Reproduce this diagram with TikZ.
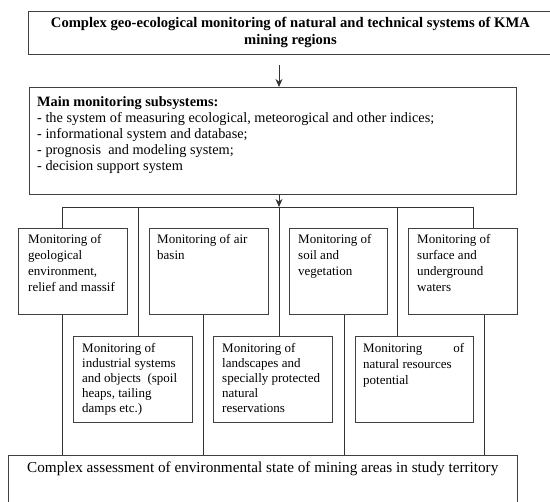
\documentclass[tikz,border=0pt]{standalone}
\usepackage{fontspec}
\setmainfont{Liberation Serif}
\usetikzlibrary{arrows.meta}

\begin{document}
\begin{tikzpicture}[x=1pt,y=-1pt,
  box/.style={draw=black!75, line width=0.9pt, anchor=north west, inner sep=0pt},
  lbl/.style={anchor=north west, inner sep=0pt, align=left, font=\fontsize{13}{16}\selectfont},
  link/.style={draw=black!80, line width=0.8pt},
  arr/.style={link, -{Stealth[length=8pt,width=7pt]}}]
\useasboundingbox (0,0) rectangle (550,502);

% top and main boxes
\node[box, minimum width=524, minimum height=43, align=center,
  font=\bfseries\fontsize{14.6}{17}\selectfont] (top) at (28,11)
  {Complex geo-ecological monitoring of natural and technical systems of KMA\\mining regions};
\node[box, minimum width=487, minimum height=107,
  label={[lbl, font=\fontsize{14.3}{16}\selectfont, xshift=8pt, yshift=-9pt]north west:{\textbf{Main monitoring subsystems:}\\
  - the system of measuring ecological, meteorogical and other indices;\\
  - informational system and database;\\
  - prognosis\ \ and modeling system;\\
  - decision support system}}] (main) at (29,87) {};

% first row
\node[box, minimum width=109, minimum height=86,
  label={[lbl, xshift=10pt, yshift=-6pt]north west:{Monitoring of\\geological\\environment,\\relief and massif}}] (geo) at (18,228) {};
\node[box, minimum width=119, minimum height=86,
  label={[lbl, xshift=8pt, yshift=-6pt]north west:{Monitoring of air\\basin}}] (air) at (149,228) {};
\node[box, minimum width=98, minimum height=86,
  label={[lbl, xshift=9pt, yshift=-6pt]north west:{Monitoring of\\soil and\\vegetation}}] (soil) at (289,228) {};
\node[box, minimum width=109, minimum height=86,
  label={[lbl, xshift=9pt, yshift=-6pt]north west:{Monitoring of\\surface and\\underground\\waters}}] (water) at (408,228) {};

% second row
\node[box, minimum width=119, minimum height=86,
  label={[lbl, font=\fontsize{13}{15}\selectfont, xshift=9pt, yshift=-7pt]north west:{Monitoring of\\industrial systems\\and objects\ \ (spoil\\heaps, tailing\\damps etc.)}}] (ind) at (73,336) {};
\node[box, minimum width=119, minimum height=86,
  label={[lbl, font=\fontsize{13}{15}\selectfont, xshift=9pt, yshift=-7pt]north west:{Monitoring of\\landscapes and\\specially protected\\natural\\reservations}}] (land) at (213,336) {};
\node[box, minimum width=118, minimum height=86,
  label={[lbl, font=\fontsize{13}{16}\selectfont, xshift=8pt, yshift=-7pt]north west:{\makebox[101pt][s]{Monitoring\hfill of}\\natural resources\\potential}}] (res) at (355,336) {};

% bottom box
\node[box, minimum width=509, minimum height=60,
  label={[lbl, font=\fontsize{15.2}{17}\selectfont, xshift=19pt, yshift=-7pt]north west:{Complex assessment of environmental state of mining areas in study territory}}] (ass) at (8,455) {};

% connectors
\coordinate (bus) at (279,207);
\coordinate (busl) at (62,207);
\coordinate (busr) at (473,207);
\draw[arr] (279,65) -- (main.north -| bus);
\draw[arr] (main.south -| bus) -- (bus);
\draw[link] (busl) -- (busr);
\foreach \x/\n in {62/geo, 138/ind, 279/land, 397/res, 473/water}
  \draw[link] (\x,207) -- (\n.north -| \x,207);
\foreach \x/\n in {62/geo, 203/air, 344/soil, 484/water}
  \draw[link] (\n.south -| \x,0) -- (ass.north -| \x,0);
\end{tikzpicture}
\end{document}
